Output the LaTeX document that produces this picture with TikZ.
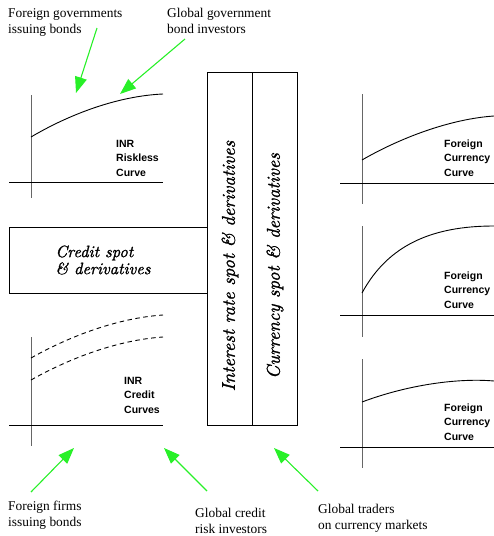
\documentclass[tikz,border=0pt]{standalone}
\usepackage{fontspec}
\newfontfamily\lserif{Liberation Serif}
\newfontfamily\lsans{Liberation Sans}
\newfontfamily\itheavy{lmroman10-italic.otf}[FakeBold=1.3]
\usetikzlibrary{arrows.meta}
\definecolor{arrowgreen}{RGB}{40,240,40}
\begin{document}
\begin{tikzpicture}[x=1pt,y=-1pt,
  axisv/.style={draw=black!60, line width=0.8pt},
  axish/.style={draw=black, line width=0.8pt},
  curve/.style={line width=0.9pt},
  dcurve/.style={curve, dash pattern=on 4.5pt off 3.5pt},
  garrow/.style={draw=arrowgreen, line width=1.1pt, -{Triangle[length=16pt,width=12pt]}},
  lbl/.style={font=\lserif\fontsize{13.4}{16}\selectfont, align=left, anchor=base west, inner sep=0pt},
  clbl/.style={font=\lsans\bfseries\fontsize{10.5}{14.4}\selectfont, align=left, anchor=base west, inner sep=0pt},
  boxst/.style={draw, line width=0.9pt, inner sep=0pt},
  boxtext/.style={font=\itheavy\fontsize{16.5}{17}\selectfont, align=left, inner sep=0pt},
  vtext/.style={font=\itheavy\fontsize{18.5}{20}\selectfont, rotate=90, inner sep=0pt}]
\useasboundingbox (0,0) rectangle (494,536);

% ---- top-left graph: INR riskless
\draw[axisv] (31,95) -- (31,198);
\draw[axish] (9,182) -- (163,182);
\draw[curve] (31,137) .. controls (70,114) and (118,96) .. (163,94);
\node[clbl] (inrr) at (116,176) {INR\\Riskless\\Curve};

% ---- credit box
\node[boxst, anchor=north west, minimum width=198pt, minimum height=66pt] (credit) at (9,227) {};
\node[boxtext] (credittext) at (103,260) {Credit spot\\\& derivatives};

% ---- bottom-left graph: INR credit
\draw[axisv] (31,337) -- (31,446);
\draw[axish] (9,425) -- (163,425);
\draw[dcurve] (31,358) .. controls (70,336) and (118,318) .. (163,315);
\draw[dcurve] (31,380) .. controls (70,358) and (118,340) .. (163,337);
\node[clbl] (inrc) at (124,413) {INR\\Credit\\Curves};

% ---- vertical boxes
\node[boxst, anchor=north west, minimum width=45pt, minimum height=353pt] (irbox) at (207,72) {};
\node[boxst, anchor=north west, minimum width=45pt, minimum height=353pt] (ccybox) at (252,72) {};
\node[vtext] (irtext) at (230,266) {Interest rate spot \& derivatives};
\node[vtext] (ccytext) at (275,266) {Currency spot \& derivatives};

% ---- right graphs
\draw[axisv] (362,94) -- (362,204);
\draw[axish] (340,183) -- (494,183);
\draw[curve] (362,160) .. controls (400,138) and (450,119) .. (494,116);
\node[clbl] (fc1) at (444,176) {Foreign\\Currency\\Curve};

\draw[axisv] (362,226) -- (362,337);
\draw[axish] (340,315) -- (494,315);
\draw[curve] (362,293) .. controls (388,245) and (432,226) .. (494,226);
\node[clbl] (fc2) at (444,308) {Foreign\\Currency\\Curve};

\draw[axisv] (362,359) -- (362,468);
\draw[axish] (340,447) -- (494,447);
\draw[curve] (362,402) .. controls (410,384) and (460,378) .. (494,381);
\node[clbl] (fc3) at (444,440) {Foreign\\Currency\\Curve};

% ---- labels
\node[lbl] (fgov) at (8,33.5) {Foreign governments\\issuing bonds};
\node[lbl] (ggov) at (167,33.5) {Global government\\bond investors};
\node[lbl] (ffirm) at (8,526) {Foreign firms\\issuing bonds};
\node[lbl] (gcred) at (195,533) {Global credit\\risk investors};
\node[lbl] (gtrad) at (318,529) {Global traders\\on currency markets};

% ---- arrows
\coordinate (s1) at (97,28);  \coordinate (t1) at (76,93);
\coordinate (s2) at (185,39); \coordinate (t2) at (120,94);
\coordinate (s3) at (31,492); \coordinate (t3) at (74,448);
\coordinate (s4) at (207,491); \coordinate (t4) at (164,448);
\coordinate (s5) at (318,491); \coordinate (t5) at (274,448);
\draw[garrow] (s1) -- (t1);
\draw[garrow] (s2) -- (t2);
\draw[garrow] (s3) -- (t3);
\draw[garrow] (s4) -- (t4);
\draw[garrow] (s5) -- (t5);
\end{tikzpicture}
\end{document}
